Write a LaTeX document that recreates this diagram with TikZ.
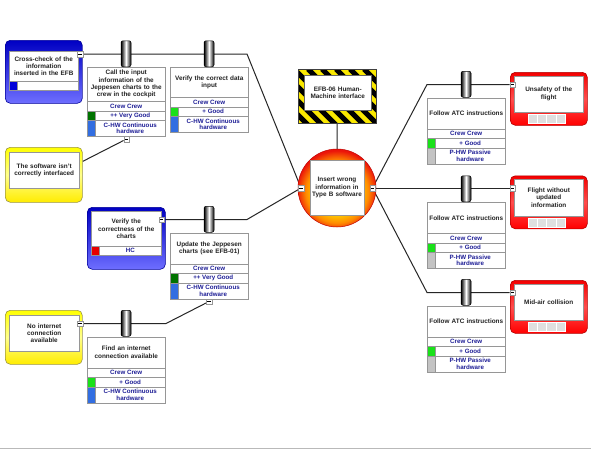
\documentclass[tikz,border=0pt]{standalone}
\usepackage{fontspec}
\setmainfont{Liberation Sans}
\pgfdeclarelayer{bg}
\pgfsetlayers{bg,main}
\definecolor{navy}{RGB}{30,30,150}
\definecolor{vgood}{RGB}{0,115,0}
\definecolor{good}{RGB}{25,225,25}
\definecolor{chw}{RGB}{50,110,225}
\definecolor{phw}{RGB}{195,195,195}
\definecolor{hc}{RGB}{230,0,0}
\definecolor{bdr}{RGB}{150,150,150}
\definecolor{hzy}{RGB}{250,232,0}
\definecolor{bluetop}{RGB}{0,0,195}
\definecolor{bluebot}{RGB}{110,110,255}
\definecolor{txtc}{RGB}{35,35,35}
\definecolor{evy}{RGB}{255,215,0}
\definecolor{evo}{RGB}{255,140,0}
\definecolor{evr}{RGB}{235,20,10}
\pgfdeclareradialshading{evshade}{\pgfpoint{0bp}{-4bp}}{color(0bp)=(evy); color(13bp)=(evy); color(20bp)=(evo); color(26bp)=(evr); color(50bp)=(evr)}
\newcommand\fnt{\fontsize{6.4}{7.3}\selectfont\bfseries}
\newcommand\rfnt{\fontsize{6.2}{6.7}\selectfont\bfseries}
\tikzset{
  x=1pt, y=-1pt,
  cell/.style={draw=bdr, line width=0.5pt, fill=white, inner sep=0pt, anchor=north west},
  txt/.style={font=\fnt, text=txtc, align=center},
  rowtxt/.style={font=\rfnt, text=navy, align=center},
  barrel/.style={draw=black, line width=0.5pt, rounded corners=2pt, minimum width=10pt, minimum height=26pt,
    inner sep=0pt, left color=black, right color=black, middle color=white, anchor=south},
  minus/.style={draw=bdr, fill=white, line width=0.4pt, minimum size=5.5pt, inner sep=0pt,
    path picture={\draw[black, line width=0.4pt] ([xshift=-1.6pt]path picture bounding box.center) -- ([xshift=1.6pt]path picture bounding box.center);}},
  link/.style={line width=1pt, draw=black!85},
  bluebox/.style={anchor=north west, rounded corners=5pt, draw=blue!60!black, line width=0.6pt, top color=bluetop, bottom color=bluebot, inner sep=0pt},
  yelbox/.style={anchor=north west, rounded corners=5pt, draw=yellow!55!black, line width=0.6pt, top color=yellow, bottom color=yellow!85!orange, middle color=yellow!45!white, inner sep=0pt},
  redbox/.style={anchor=north west, rounded corners=5pt, draw=red!70!black, line width=0.6pt, top color=red!95!black, bottom color=red, middle color=red!70!white, inner sep=0pt},
  sqr/.style={draw=white, line width=0.5pt, fill=gray!25, minimum width=9.2pt, minimum height=9pt, inner sep=0pt, anchor=north west},
}
% barrier box: name, x, y, text height, text, level, level colour, type, type colour
\newcommand\barrierbox[9]{%
  \node[cell, minimum width=78pt, minimum height=#4pt, text width=77pt, txt] (#1) at (#2,#3) {#5};
  \node[barrel] (#1-bar) at ({#2+39},#3) {};
  \node[cell, minimum width=78pt, minimum height=9.5pt, rowtxt] (#1-crew) at (#2,{#3+#4}) {Crew Crew};
  \node[cell, minimum width=70pt, minimum height=9.5pt, rowtxt] (#1-lvl) at ({#2+8},{#3+#4+9.5}) {#6};
  \node[cell, fill=#7, minimum width=8pt, minimum height=9.5pt] (#1-lsq) at (#2,{#3+#4+9.5}) {};
  \node[cell, minimum width=70pt, minimum height=16pt, rowtxt] (#1-type) at ({#2+8},{#3+#4+19}) {#8};
  \node[cell, fill=#9, minimum width=8pt, minimum height=16pt] (#1-tsq) at (#2,{#3+#4+19}) {};
}
% consequence box: name, y, text
\newcommand\conbox[3]{%
  \node[redbox, minimum width=77pt, minimum height=53pt] (#1) at (510,#2) {};
  \node[cell, minimum width=69pt, minimum height=36.5pt, txt, text width=66pt] (#1-t) at (514,{#2+3.5}) {#3};
  \node[sqr] (#1-s1) at (528,{#2+42}) {};
  \node[sqr] (#1-s2) at (537.2,{#2+42}) {};
  \node[sqr] (#1-s3) at (546.4,{#2+42}) {};
  \node[sqr] (#1-s4) at (555.6,{#2+42}) {};
  \node[minus] (#1-m) at (512.5,{#2+12.5}) {};
}
\begin{document}
\begin{tikzpicture}
\useasboundingbox (0,0) rectangle (591,450);
\begin{pgfonlayer}{bg}
  \fill[white] (0,0) rectangle (591,450);
\end{pgfonlayer}
\draw[gray!55, line width=1pt] (0,448.5) -- (591,448.5);

% ---- left threats
\node[bluebox, minimum width=77pt, minimum height=63pt] (cc) at (5,40) {};
\node[cell, minimum width=69pt, minimum height=30pt, txt, text width=68pt] (cc-t) at (9,51) {Cross-check of the\\information\\inserted in the EFB};
\node[cell, minimum width=69pt, minimum height=9pt] (cc-r) at (9,81) {};
\node[cell, fill=blue!85!black, minimum width=8pt, minimum height=9pt] (cc-sq) at (9,81) {};
\node[minus] (cc-m) at (80,54) {};

\node[yelbox, minimum width=77pt, minimum height=55pt] (ye1) at (5,147) {};
\node[cell, minimum width=70pt, minimum height=36pt, txt, text width=69pt] (ye1-t) at (9,152) {The software isn't\\correctly interfaced};

\node[bluebox, minimum width=78pt, minimum height=62pt] (vc) at (87,207) {};
\node[cell, minimum width=70pt, minimum height=35pt, txt, text width=69pt] (vc-t) at (91,211) {Verify the\\correctness of the\\charts};
\node[cell, minimum width=62pt, minimum height=9pt, rowtxt] (vc-r) at (99,246) {HC};
\node[cell, fill=hc, minimum width=8pt, minimum height=9pt] (vc-sq) at (91,246) {};
\node[minus] (vc-m) at (161.5,219.5) {};

\node[yelbox, minimum width=77pt, minimum height=54pt] (ye2) at (5,310) {};
\node[cell, minimum width=70pt, minimum height=36pt, txt, text width=69pt] (ye2-t) at (9,315) {No internet\\connection\\available};
\node[minus] (ye2-m) at (80,323.5) {};

% ---- barriers
\barrierbox{b1}{87}{67}{34}{Call the input\\information of the\\Jeppesen charts to the\\crew in the cockpit}{++ Very Good}{vgood}{C-HW Continuous\\hardware}{chw}
\node[minus] (b1-m) at (126.5,139) {};
\barrierbox{b2}{170}{67}{30}{Verify the correct data\\input}{+ Good}{good}{C-HW Continuous\\hardware}{chw}
\barrierbox{b3}{170}{232.5}{31}{Update the Jeppesen\\charts (see EFB-01)}{++ Very Good}{vgood}{C-HW Continuous\\hardware}{chw}
\node[minus] (b3-m) at (209,301.5) {};
\barrierbox{b4}{87}{336.5}{31}{Find an internet\\connection available}{+ Good}{good}{C-HW Continuous\\hardware}{chw}

\barrierbox{r1}{427}{97.5}{31}{Follow ATC instructions}{+ Good}{good}{P-HW Passive\\hardware}{phw}
\barrierbox{r2}{427}{202}{31}{Follow ATC instructions}{+ Good}{good}{P-HW Passive\\hardware}{phw}
\barrierbox{r3}{427}{305.5}{31}{Follow ATC instructions}{+ Good}{good}{P-HW Passive\\hardware}{phw}

% ---- hazard
\node[anchor=north west, fill=hzy, minimum width=78pt, minimum height=54pt, inner sep=0pt] (hz) at (298,69) {};
\begin{scope}
  \clip (hz.north west) rectangle (hz.south east);
  \foreach \i in {0,...,11} \draw[line width=5pt, black] ({238+\i*14},69) -- ++(70,70);
\end{scope}
\draw[black!75, line width=0.6pt] (hz.north west) rectangle (hz.south east);
\node[cell, draw=black!60, minimum width=67pt, minimum height=35pt, txt, text width=66pt] (hz-t) at (304,75) {EFB-06 Human-\\Machine interface};

% ---- top event
\node[circle, minimum size=78pt, inner sep=0pt, shading=evshade, draw=red!75!black, line width=0.5pt] (ev) at (337,188) {};
\node[cell, anchor=center, minimum width=54pt, minimum height=55pt, txt, text width=54pt] (ev-t) at (337,187.5) {Insert wrong\\information in\\Type B software};
\node[minus] (ev-lm) at (301,188) {};
\node[minus] (ev-rm) at (372.5,188) {};

% ---- consequences
\conbox{c1}{72}{Unsafety of the\\flight}
\conbox{c2}{175.5}{Flight without\\updated\\information}
\conbox{c3}{280}{Mid-air collision}

% ---- connectors
\coordinate (k1) at (247,54);
\coordinate (k3) at (247,219.5);
\coordinate (k4) at (166,323.5);
\coordinate (k5) at (427,84.5);
\coordinate (k6) at (427,292.5);
\begin{pgfonlayer}{bg}
  \draw[link] (cc-m) -- (k1) -- (ev-lm);
  \draw[link] (ye1.19) -- (b1-m);
  \draw[link] (vc-m) -- (k3) -- (ev-lm);
  \draw[link] (ye2-m) -- (k4) -- (b3-m);
  \draw[link] (hz.south) -- (ev.north);
  \draw[link] (ev-rm) -- (k5) -- (c1-m);
  \draw[link] (ev-rm) -- (c2-m);
  \draw[link] (ev-rm) -- (k6) -- (c3-m);
\end{pgfonlayer}
\end{tikzpicture}
\end{document}
